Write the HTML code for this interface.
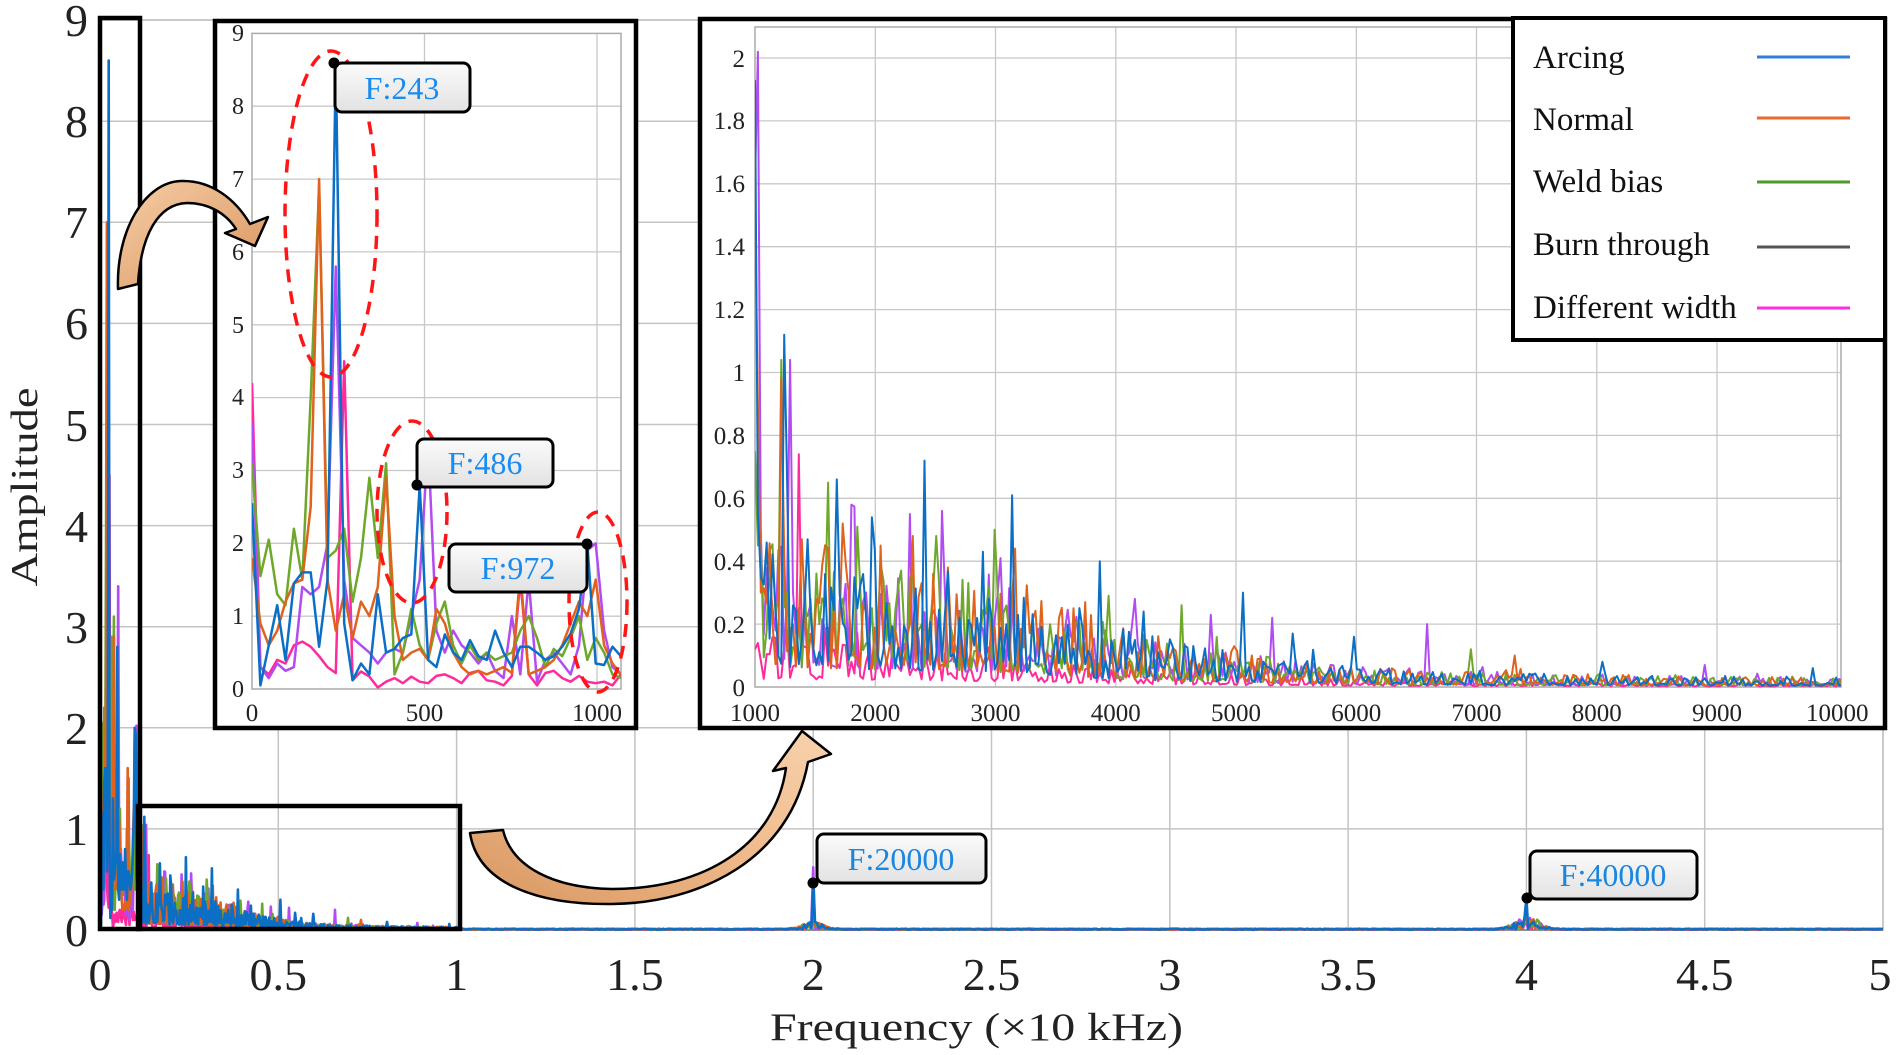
<!DOCTYPE html>
<html><head><meta charset="utf-8"><style>
html,body{margin:0;padding:0;background:#fff;overflow:hidden;}
svg{display:block;font-family:"Liberation Serif",serif;}
</style></head><body>
<svg id="s" width="1896" height="1055" viewBox="0 0 1896 1055" xmlns="http://www.w3.org/2000/svg">
<defs>
<clipPath id="cm"><rect x="100" y="20" width="1783" height="912"/></clipPath>
<clipPath id="c1"><rect x="252" y="33" width="369" height="658"/></clipPath>
<clipPath id="c2"><rect x="755" y="26" width="1086" height="663"/></clipPath>
<linearGradient id="bx" x1="0" y1="0" x2="0" y2="1"><stop offset="0" stop-color="#fbfbfb"/><stop offset="1" stop-color="#e2e2e2"/></linearGradient>
<linearGradient id="ar1" x1="0" y1="0" x2="1" y2="1"><stop offset="0" stop-color="#f6cda6"/><stop offset="1" stop-color="#d8945c"/></linearGradient>
<linearGradient id="ar2" x1="0" y1="1" x2="1" y2="0"><stop offset="0" stop-color="#d8965f"/><stop offset="0.6" stop-color="#f2bf92"/><stop offset="1" stop-color="#f7d2ad"/></linearGradient>
</defs>
<rect width="1896" height="1055" fill="#fff"/>

<!-- main grid -->
<g stroke="#c4c4c4" stroke-width="1.5">
<line x1="278.3" y1="20" x2="278.3" y2="930"/><line x1="456.6" y1="20" x2="456.6" y2="930"/>
<line x1="634.9" y1="20" x2="634.9" y2="930"/><line x1="813.2" y1="20" x2="813.2" y2="930"/>
<line x1="991.5" y1="20" x2="991.5" y2="930"/><line x1="1169.8" y1="20" x2="1169.8" y2="930"/>
<line x1="1348.1" y1="20" x2="1348.1" y2="930"/><line x1="1526.4" y1="20" x2="1526.4" y2="930"/>
<line x1="1704.7" y1="20" x2="1704.7" y2="930"/>
<line x1="100" y1="828.9" x2="1883" y2="828.9"/><line x1="100" y1="727.8" x2="1883" y2="727.8"/>
<line x1="100" y1="626.7" x2="1883" y2="626.7"/><line x1="100" y1="525.6" x2="1883" y2="525.6"/>
<line x1="100" y1="424.5" x2="1883" y2="424.5"/><line x1="100" y1="323.4" x2="1883" y2="323.4"/>
<line x1="100" y1="222.3" x2="1883" y2="222.3"/><line x1="100" y1="121.2" x2="1883" y2="121.2"/>
</g>
<rect x="100" y="20" width="1783" height="910" fill="none" stroke="#b8b8b8" stroke-width="1.5"/>
<line x1="100" y1="930" x2="1883" y2="930" stroke="#777" stroke-width="1.5"/>

<g id="gm" clip-path="url(#cm)"></g>

<!-- main annotations -->
<rect x="817" y="834" width="169" height="49" rx="7" fill="url(#bx)" stroke="#000" stroke-width="3"/>
<text x="901" y="870" font-size="32" fill="#1a86e0" text-anchor="middle">F:20000</text>
<circle cx="813" cy="883" r="5.5" fill="#000"/>
<rect x="1530" y="851" width="167" height="48" rx="7" fill="url(#bx)" stroke="#000" stroke-width="3"/>
<text x="1613" y="886" font-size="32" fill="#1a86e0" text-anchor="middle">F:40000</text>
<circle cx="1527" cy="898" r="5.5" fill="#000"/>

<!-- zoom rectangles -->
<rect x="100" y="18" width="40" height="911" fill="none" stroke="#000" stroke-width="4.5"/>
<rect x="138" y="806" width="322" height="123" fill="none" stroke="#000" stroke-width="4.5"/>

<!-- arrow 2 -->
<path d="M470,833 C478,885 540,905 612,904 C700,903 790,860 808,762 L831,754 L802,731 L773,771 L786,768 C775,845 705,889 612,889 C555,888 512,868 503,830 Z" fill="url(#ar2)" stroke="#000" stroke-width="2.5" stroke-linejoin="round"/>

<!-- inset 1 -->
<rect x="215" y="21" width="421" height="707" fill="#fff" stroke="#000" stroke-width="4.5"/>
<g stroke="#c8c8c8" stroke-width="1.3">
<line x1="424.5" y1="33" x2="424.5" y2="689"/><line x1="597" y1="33" x2="597" y2="689"/>
<line x1="252" y1="616.2" x2="621" y2="616.2"/><line x1="252" y1="543.3" x2="621" y2="543.3"/>
<line x1="252" y1="470.5" x2="621" y2="470.5"/><line x1="252" y1="397.6" x2="621" y2="397.6"/>
<line x1="252" y1="324.8" x2="621" y2="324.8"/><line x1="252" y1="251.9" x2="621" y2="251.9"/>
<line x1="252" y1="179.1" x2="621" y2="179.1"/><line x1="252" y1="106.2" x2="621" y2="106.2"/>
</g>
<rect x="252" y="33.4" width="369" height="655.6" fill="none" stroke="#aaa" stroke-width="1.5"/>
<g id="g1" clip-path="url(#c1)"></g>
<g fill="none" stroke="#ff1515" stroke-width="3.5" stroke-dasharray="13 9">
<ellipse cx="331" cy="214" rx="46" ry="163"/>
<ellipse cx="412" cy="512" rx="35" ry="91"/>
<ellipse cx="598" cy="602" rx="29" ry="90"/>
</g>
<rect x="335" y="63" width="135" height="49" rx="7" fill="url(#bx)" stroke="#000" stroke-width="3"/>
<text x="402" y="99" font-size="32" fill="#1a8cf0" text-anchor="middle">F:243</text>
<circle cx="334" cy="63" r="5.5" fill="#000"/>
<rect x="417" y="439" width="136" height="48" rx="7" fill="url(#bx)" stroke="#000" stroke-width="3"/>
<text x="485" y="474" font-size="32" fill="#1a8cf0" text-anchor="middle">F:486</text>
<circle cx="417" cy="485" r="5.5" fill="#000"/>
<rect x="449" y="544" width="138" height="48" rx="7" fill="url(#bx)" stroke="#000" stroke-width="3"/>
<text x="518" y="579" font-size="32" fill="#1a8cf0" text-anchor="middle">F:972</text>
<circle cx="587" cy="544" r="5.5" fill="#000"/>
<g font-size="24" fill="#222" text-anchor="end">
<text x="244" y="697">0</text><text x="244" y="624">1</text><text x="244" y="551">2</text>
<text x="244" y="478">3</text><text x="244" y="405">4</text><text x="244" y="333">5</text>
<text x="244" y="260">6</text><text x="244" y="187">7</text><text x="244" y="114">8</text>
<text x="244" y="41">9</text>
</g>
<g font-size="25" fill="#222" text-anchor="middle">
<text x="252" y="721">0</text><text x="424.5" y="721">500</text><text x="597" y="721">1000</text>
</g>

<!-- inset 2 -->
<rect x="700" y="19" width="1185" height="709" fill="#fff" stroke="#000" stroke-width="4.5"/>
<g stroke="#c8c8c8" stroke-width="1.3">
<line x1="875.3" y1="27" x2="875.3" y2="687"/><line x1="995.5" y1="27" x2="995.5" y2="687"/>
<line x1="1115.8" y1="27" x2="1115.8" y2="687"/><line x1="1236" y1="27" x2="1236" y2="687"/>
<line x1="1356.3" y1="27" x2="1356.3" y2="687"/><line x1="1476.5" y1="27" x2="1476.5" y2="687"/>
<line x1="1596.8" y1="27" x2="1596.8" y2="687"/><line x1="1717" y1="27" x2="1717" y2="687"/>
<line x1="1837.3" y1="27" x2="1837.3" y2="687"/>
<line x1="755" y1="624.1" x2="1841" y2="624.1"/><line x1="755" y1="561.2" x2="1841" y2="561.2"/>
<line x1="755" y1="498.3" x2="1841" y2="498.3"/><line x1="755" y1="435.4" x2="1841" y2="435.4"/>
<line x1="755" y1="372.5" x2="1841" y2="372.5"/><line x1="755" y1="309.6" x2="1841" y2="309.6"/>
<line x1="755" y1="246.7" x2="1841" y2="246.7"/><line x1="755" y1="183.8" x2="1841" y2="183.8"/>
<line x1="755" y1="120.9" x2="1841" y2="120.9"/><line x1="755" y1="58" x2="1841" y2="58"/>
</g>
<rect x="755" y="27" width="1086" height="660" fill="none" stroke="#aaa" stroke-width="1.5"/>
<g id="g2" clip-path="url(#c2)"></g>
<g font-size="25" fill="#222" text-anchor="end">
<text x="745" y="696">0</text><text x="745" y="633">0.2</text><text x="745" y="570">0.4</text>
<text x="745" y="507">0.6</text><text x="745" y="444">0.8</text><text x="745" y="381">1</text>
<text x="745" y="318">1.2</text><text x="745" y="255">1.4</text><text x="745" y="192">1.6</text>
<text x="745" y="129">1.8</text><text x="745" y="67">2</text>
</g>
<g font-size="25" fill="#222" text-anchor="middle">
<text x="755" y="721">1000</text><text x="875.3" y="721">2000</text><text x="995.5" y="721">3000</text>
<text x="1115.8" y="721">4000</text><text x="1236" y="721">5000</text><text x="1356.3" y="721">6000</text>
<text x="1476.5" y="721">7000</text><text x="1596.8" y="721">8000</text><text x="1717" y="721">9000</text>
<text x="1837.3" y="721">10000</text>
</g>

<!-- legend -->
<rect x="1513" y="18" width="372" height="322" fill="#fff" stroke="#000" stroke-width="4"/>
<g font-size="33" fill="#111">
<text x="1533" y="68">Arcing</text>
<text x="1533" y="130">Normal</text>
<text x="1533" y="192">Weld bias</text>
<text x="1533" y="255">Burn through</text>
<text x="1533" y="318">Different width</text>
</g>
<g stroke-width="3">
<line x1="1757" y1="57" x2="1850" y2="57" stroke="#2f7fd5"/>
<line x1="1757" y1="118" x2="1850" y2="118" stroke="#e9692c"/>
<line x1="1757" y1="182" x2="1850" y2="182" stroke="#4c9a2a"/>
<line x1="1757" y1="247" x2="1850" y2="247" stroke="#555"/>
<line x1="1757" y1="308" x2="1850" y2="308" stroke="#ff2de0"/>
</g>

<!-- arrow 1 -->
<path d="M118,289 C116,230 145,182 181,181 C212,180 236,200 250,224 L268,217 L255,246 L225,233 L236,229 C225,212 207,203 187,203 C158,204 141,235 138,284 Z" fill="url(#ar1)" stroke="#000" stroke-width="2.5" stroke-linejoin="round"/>

<!-- main tick labels -->
<g font-size="46" fill="#222" text-anchor="end">
<text x="88" y="946">0</text><text x="88" y="845">1</text><text x="88" y="744">2</text>
<text x="88" y="643">3</text><text x="88" y="542">4</text><text x="88" y="441">5</text>
<text x="88" y="339">6</text><text x="88" y="238">7</text><text x="88" y="137">8</text>
<text x="88" y="36">9</text>
</g>
<g font-size="46" fill="#222" text-anchor="middle">
<text x="100" y="990">0</text><text x="278.3" y="990">0.5</text><text x="456.6" y="990">1</text>
<text x="634.9" y="990">1.5</text><text x="813.2" y="990">2</text><text x="991.5" y="990">2.5</text>
<text x="1169.8" y="990">3</text><text x="1348.1" y="990">3.5</text><text x="1526.4" y="990">4</text>
<text x="1704.7" y="990">4.5</text><text x="1880" y="990">5</text>
</g>
<text x="770" y="1040" font-size="39" fill="#222" textLength="413" lengthAdjust="spacingAndGlyphs">Frequency (×10 kHz)</text>
<text transform="translate(37,487) rotate(-90)" font-size="38" fill="#222" text-anchor="middle" textLength="199" lengthAdjust="spacingAndGlyphs">Amplitude</text>
</svg>
<script>
(function(){
var NS="http://www.w3.org/2000/svg";
var C=['#0b6fc6','#e0621c','#6ea82b','#b24cf2','#ff2a9c'];
var seed=12345;function R(){seed=(seed*1664525+1013904223)>>>0;return seed/4294967296;}
var I1=[
[2.55,0.05,0.6,1.15,0.4,1.45,1.6,1.6,0.58,1.5,8.6,0.9,0.12,0.35,0.2,1.3,0.5,0.55,0.7,0.75,2.8,0.4,0.3,0.75,0.5,0.4,0.67,0.45,0.4,0.8,0.5,0.3,0.58,0.58,0.5,0.4,0.45,0.58,0.76,1.1,2.0,0.35,0.33,0.58,0.45],
[1.8,0.9,0.6,0.8,1.2,1.45,1.5,2.5,7.0,1.5,0.8,1.3,0.7,1.2,1.0,1.4,2.9,1.0,0.4,0.5,0.55,0.4,1.1,0.9,0.5,0.3,0.2,0.25,0.2,0.25,0.3,0.22,1.6,0.2,0.25,0.3,0.4,0.6,0.9,1.2,1.0,1.5,0.6,0.35,0.2],
[3.1,1.55,2.05,1.3,1.15,2.2,1.5,4.0,6.9,1.8,1.9,2.2,1.2,1.8,2.9,1.8,3.1,0.2,0.5,1.1,0.6,0.4,0.9,1.2,0.6,0.35,0.6,0.4,0.5,0.4,0.45,0.5,0.8,1.0,0.7,0.3,0.55,0.45,0.7,1.0,0.4,0.7,0.5,0.2,0.15],
[3.65,0.3,0.15,0.35,0.25,0.3,1.4,1.3,1.4,2.0,5.8,1.5,0.7,0.6,0.5,0.35,0.5,0.55,0.5,1.0,1.5,3.4,0.8,0.5,0.8,0.6,0.5,0.35,0.5,0.25,0.15,1.0,0.2,1.5,0.1,0.4,0.5,0.35,0.2,0.6,1.9,2.0,0.8,0.3,0.2],
[4.2,0.3,0.2,0.4,0.35,0.6,0.65,0.58,0.45,0.3,0.22,4.5,0.12,0.24,0.17,0.02,0.1,0.15,0.08,0.17,0.1,0.08,0.18,0.2,0.15,0.08,0.22,0.25,0.12,0.1,0.05,0.18,1.5,0.2,0.05,0.22,0.25,0.15,0.1,0.18,0.1,0.08,0.1,0.05,0.2]];
var N2=373,D2=[];
for(var s=0;s<5;s++){var a=[];for(var k=0;k<N2;k++){var f=1000+k*24.3;var b=f<3200?0.33-(f-1000)*0.00005:0.02+0.2*Math.exp(-(f-3200)/1400);if(s==4)b*=0.4;var r=R(),r2=R(),r3=R();a.push(b*(0.2+1.3*r*r+(r2>0.93?0.9*r3:0)));}D2.push(a);}
var P=[[0,0,1.93],[1,0,1.52],[3,0,1.6],[2,0,0.75],[4,0,0.12],[3,1,2.02],[0,1,0.55],[1,1,0.9],[2,1,0.45],[4,1,0.14],[3,2,0.5],[0,2,0.35],[1,2,0.3],
[2,9,1.04],[1,9,0.98],[0,10,1.12],[0,11,0.66],[2,11,0.3],[3,12,1.04],[3,13,0.3],[4,15,0.74],[1,16,0.47],[0,18,0.47],[2,25,0.65],[0,28,0.66],[1,30,0.52],
[3,33,0.58],[2,35,0.51],[0,40,0.54],[1,43,0.45],[2,50,0.37],[3,53,0.55],[1,54,0.48],[0,58,0.72],[2,62,0.48],[3,64,0.56],[1,66,0.38],[0,78,0.43],[2,82,0.5],
[3,84,0.41],[0,88,0.61],[1,89,0.44],[1,113,0.27],[0,118,0.4],[2,121,0.29],[3,130,0.28],[0,133,0.24],[2,146,0.26],[3,156,0.23],[0,167,0.3],[3,177,0.22],
[0,184,0.17],[0,205,0.16],[3,230,0.2],[2,245,0.12],[1,260,0.1],[0,290,0.08],[3,325,0.07],[0,362,0.06]];
P.forEach(function(p){D2[p[0]][p[1]]=p[2];});
function add(g,pts,c,w){var p=document.createElementNS(NS,'path');p.setAttribute('d','M'+pts.map(function(q){return q[0].toFixed(1)+','+q[1].toFixed(1);}).join('L'));p.setAttribute('stroke',c);p.setAttribute('stroke-width',w);p.setAttribute('fill','none');p.setAttribute('stroke-linejoin','round');g.appendChild(p);}
var gm=document.getElementById('gm'),g1=document.getElementById('g1'),g2=document.getElementById('g2');
var order=[4,3,2,1,0];
var sp20=[0.47,0.1,0.08,0.62,0.3],sp40=[0.32,0.16,0.08,0.1,0.06];
order.forEach(function(s){
 var pts=[],i,k,f,v;
 for(i=0;i<=40;i++){f=i*24.3;pts.push([100+f*0.03566,930-I1[s][i]*101.1]);}
 for(k=0;k<N2;k++){f=1000+k*24.3;pts.push([100+f*0.03566,930-D2[s][k]*101.1]);}
 for(var j=0;j<=798;j++){f=10100+50*j;v=0.003+0.01*R();v+=0.08*Math.exp(-Math.pow((f-20000)/400,2))*R();v+=0.14*Math.exp(-Math.pow((f-40000)/450,2))*R();if(s==4)v*=0.7;if(f==20000)v=sp20[s];if(f==40000)v=sp40[s];pts.push([100+f*0.03566,930-v*101.1]);}
 add(gm,pts,C[s],2.6);
 var p1=[];for(i=0;i<45;i++){f=i*24.3;p1.push([252+f*0.345,689-I1[s][i]*72.85]);}
 add(g1,p1,C[s],2.5);
 var p2=[];for(k=0;k<N2;k++){f=1000+k*24.3;p2.push([755+(f-1000)*0.12025,687-D2[s][k]*314.5]);}
 add(g2,p2,C[s],2.0);
});
})();
</script>
</body></html>
